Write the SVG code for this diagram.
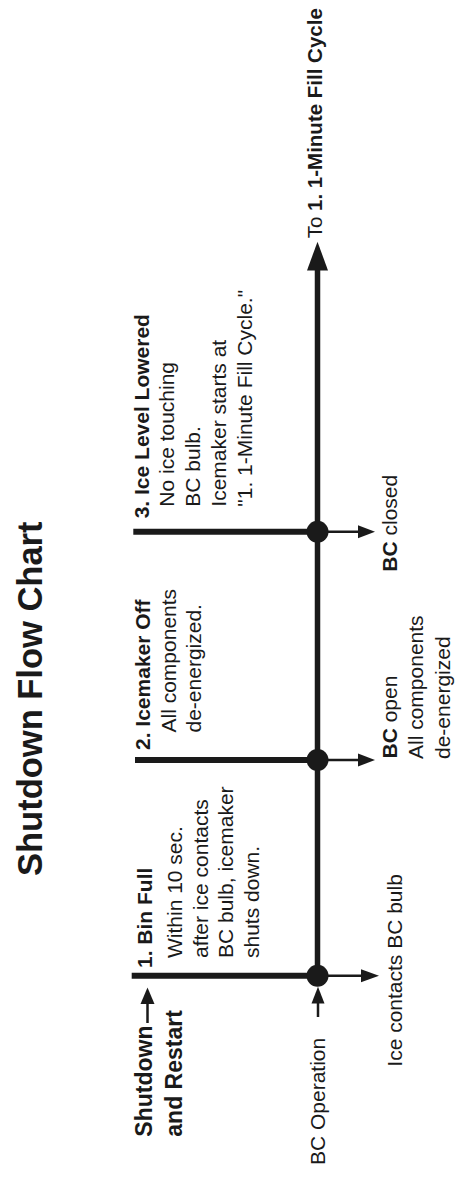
<svg xmlns="http://www.w3.org/2000/svg" width="455" height="1178" viewBox="0 0 455 1178">
<style>
text{font-family:"Liberation Sans",Arial,Helvetica,sans-serif;fill:#1a1a1a;font-size:21px}
.b{font-weight:bold}
.title{font-weight:bold;font-size:34.5px}
.big{font-weight:bold;font-size:23px}
.thick{stroke:#1a1a1a;stroke-width:6;fill:none}
.spine{stroke:#1a1a1a;stroke-width:5.5;fill:none}
.thin{stroke:#1a1a1a;stroke-width:2.5;fill:none}
.head{fill:#1a1a1a}
.dot{fill:#1a1a1a}
</style>
<rect width="455" height="1178" fill="#fff"/>
<g transform="translate(0,1178) rotate(-90)">
  <g id="title"><text class="title" x="302" y="41.5">Shutdown Flow Chart</text></g>
  <g id="connectors">
    <line class="spine" x1="202.2" y1="317.5" x2="910" y2="317.5"/>
    <polygon class="head" points="936.3,317.5 907.5,307 907.5,328"/>
    <line class="thick" x1="202.2" y1="131.7" x2="202.2" y2="317.5"/>
    <line class="thick" x1="418" y1="135" x2="418" y2="317.5"/>
    <line class="thick" x1="646.3" y1="133.3" x2="646.3" y2="317.5"/>
    <line class="thin" x1="202.2" y1="317.5" x2="202.2" y2="362"/>
    <polygon class="head" points="202.2,379 195.7,361 208.7,361"/>
    <line class="thin" x1="418" y1="317.5" x2="418" y2="359"/>
    <polygon class="head" points="418,375 411.5,358 424.5,358"/>
    <line class="thin" x1="646.3" y1="317.5" x2="646.3" y2="359"/>
    <polygon class="head" points="646.3,375 639.8,358 652.8,358"/>
    <line class="thin" x1="161" y1="318" x2="176" y2="318"/>
    <polygon class="head" points="191.3,318 174.5,311.5 174.5,324.5"/>
    <line class="thin" x1="155" y1="147.5" x2="176" y2="147.5"/>
    <polygon class="head" points="190.5,147.5 174,140.5 174,154.5"/>
  </g>
  <g id="dots">
    <circle class="dot" cx="202.2" cy="317.5" r="11"/>
    <circle class="dot" cx="418" cy="317.5" r="11"/>
    <circle class="dot" cx="646.3" cy="317.5" r="11"/>
  </g>
  <g id="start">
    <text class="big" x="41.3" y="152">Shutdown</text>
    <text class="big" x="41.3" y="181.5">and Restart</text>
  </g>
  <g id="bc-operation"><text x="13" y="324.5">BC Operation</text></g>
  <g id="ice-contacts"><text x="111.3" y="402">Ice contacts BC bulb</text></g>
  <g id="step1">
    <text class="b" x="210" y="151.5">1. Bin Full</text>
    <text x="220" y="181.5">Within 10 sec.</text>
    <text x="220" y="207.5">after ice contacts</text>
    <text x="220" y="233">BC bulb, icemaker</text>
    <text x="220" y="258.5">shuts down.</text>
  </g>
  <g id="step2">
    <text class="b" x="428" y="150">2. Icemaker Off</text>
    <text x="445.5" y="175.5">All components</text>
    <text x="445.5" y="201">de-energized.</text>
  </g>
  <g id="bc-open">
    <text x="419.5" y="396.5"><tspan class="b">BC</tspan> open</text>
    <text x="419" y="423">All components</text>
    <text x="419" y="449.5">de-energized</text>
  </g>
  <g id="step3">
    <text class="b" x="659.7" y="148.5">3. Ice Level Lowered</text>
    <text x="671.3" y="173.5">No ice touching</text>
    <text x="671.3" y="200">BC bulb.</text>
    <text x="671.3" y="226">Icemaker starts at</text>
    <text x="671.3" y="251.5">"1. 1-Minute Fill Cycle."</text>
  </g>
  <g id="bc-closed"><text x="606.3" y="397"><tspan class="b">BC</tspan> closed</text></g>
  <g id="to-fill"><text x="939.7" y="322" style="font-size:20.5px">To <tspan class="b">1. 1-Minute Fill Cycle</tspan></text></g>
</g>
</svg>
